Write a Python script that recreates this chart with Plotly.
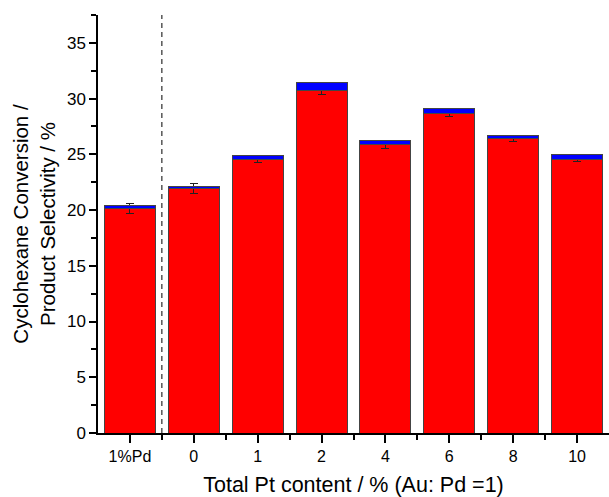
import plotly.graph_objects as go

categories = ["1%Pd", "0", "1", "2", "4", "6", "8", "10"]
conversion = [20.15, 21.95, 24.55, 30.74, 25.86, 28.64, 26.43, 24.55]
selectivity_top = [0.30, 0.14, 0.38, 0.68, 0.42, 0.48, 0.27, 0.41]
conv_err = [0.42, 0.42, 0.28, 0.39, 0.33, 0.28, 0.30, 0.22]

x = list(range(len(categories)))
font = "Liberation Sans, Arial, sans-serif"

fig = go.Figure()
fig.add_trace(go.Bar(
    x=x, y=conversion, marker=dict(color="#FF0000", line=dict(color="#444444", width=1)),
    error_y=dict(type="data", array=conv_err, color="#222222", thickness=1, width=4),
    width=0.8, showlegend=False,
))
fig.add_trace(go.Bar(
    x=x, y=selectivity_top, marker=dict(color="#0000FF", line=dict(color="#444444", width=1)),
    width=0.8, showlegend=False,
))

fig.add_shape(type="line", x0=0.5, x1=0.5, y0=0, y1=1, xref="x", yref="paper",
              line=dict(color="black", width=1, dash="5px,4px"))

fig.update_layout(
    barmode="stack",
    width=609, height=497,
    margin=dict(l=98, r=0, t=15, b=64),
    plot_bgcolor="white", paper_bgcolor="white",
    font=dict(family=font, size=16, color="black"),
)
fig.update_xaxes(
    range=[-0.5, 7.5], tickmode="array", tickvals=x, ticktext=categories,
    showline=True, linecolor="black", linewidth=1.5, ticks="outside", ticklen=8,
    tickwidth=1.5, tickcolor="black", showgrid=False, zeroline=False,
    minor=dict(tickvals=[i + 0.5 for i in x[:-1]], ticks="outside", ticklen=5, tickwidth=1.5, tickcolor="black"),
    title=dict(text="Total Pt content / % (Au: Pd =1)", font=dict(size=21.5), standoff=14),
    tickfont=dict(size=16),
)
fig.update_yaxes(
    range=[0, 37.5], tickmode="linear", tick0=0, dtick=5,
    showline=True, linecolor="black", linewidth=1.5, ticks="outside", ticklen=7,
    tickwidth=1.5, tickcolor="black", showgrid=False, zeroline=False,
    minor=dict(dtick=2.5, ticks="outside", ticklen=5, tickwidth=1.5, tickcolor="black"),
    title=dict(text="Cyclohexane Conversion /<br>Product Selectivity / %", font=dict(size=20.5), standoff=6),
    tickfont=dict(size=17),
)

fig.write_html("out.html", config={"displayModeBar": False},
               post_script="document.body.style.margin='0';")
